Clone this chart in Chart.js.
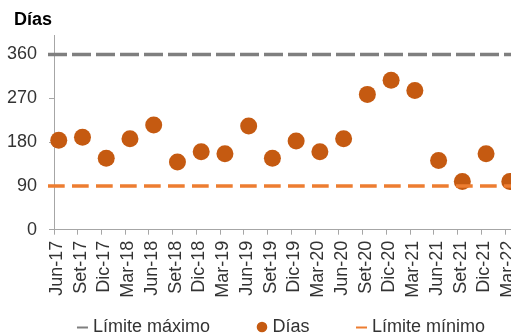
<!DOCTYPE html>
<html lang="es">
<head>
<meta charset="utf-8">
<title>Días</title>
<script src="https://cdn.jsdelivr.net/npm/chart.js@4.4.1/dist/chart.umd.min.js"></script>
<style>
  html, body { margin: 0; padding: 0; background: #fff; overflow: hidden; }
  #wrap { width: 511px; height: 335px; }
</style>
</head>
<body>
<div id="wrap"><canvas id="chart" width="511" height="335"></canvas></div>
<script>
// Trimestres
const categories = ['Jun-17', 'Set-17', 'Dic-17', 'Mar-18', 'Jun-18', 'Set-18', 'Dic-18', 'Mar-19',
  'Jun-19', 'Set-19', 'Dic-19', 'Mar-20', 'Jun-20', 'Set-20', 'Dic-20', 'Mar-21',
  'Jun-21', 'Set-21', 'Dic-21', 'Mar-22'];

// Días observados por trimestre
const dias = [184, 190, 147, 187, 215, 139, 160, 156, 213, 147, 182, 160, 187, 278, 307, 286, 142, 99, 156, 99];

// Límites de referencia
const limiteMaximo = [360, 360, 360, 360, 360, 360, 360, 360, 360, 360, 360, 360, 360, 360, 360, 360, 360, 360, 360, 360];
const limiteMinimo = [90, 90, 90, 90, 90, 90, 90, 90, 90, 90, 90, 90, 90, 90, 90, 90, 90, 90, 90, 90];

// Marcas del eje vertical
const yTicks = [0, 90, 180, 270, 360];

const TITLE = 'Días';
const FONT = "'Liberation Sans', Arial, Helvetica, sans-serif";
const AXIS_GREY = '#A6A6A6';
const TEXT = '#333333';

const toPoints = arr => arr.map((v, i) => ({ x: i, y: v }));

// Título arriba a la izquierda y leyenda centrada bajo el eje
const headerAndLegend = {
  id: 'headerAndLegend',
  afterDraw(chart) {
    const ctx = chart.ctx;
    ctx.save();
    ctx.textBaseline = 'middle';
    ctx.textAlign = 'left';

    ctx.font = `bold 18px ${FONT}`;
    ctx.fillStyle = '#000';
    ctx.fillText(TITLE, 14, 20);

    ctx.font = `18px ${FONT}`;
    const SYM = 11, GAP = 5, ITEM_GAP = 46.5, CX = 281, Y = 327;
    const items = chart.data.datasets.map(ds => ({ ds, w: ctx.measureText(ds.label).width }));
    const total = items.reduce((s, it) => s + SYM + GAP + it.w, 0) + ITEM_GAP * (items.length - 1);
    let x = CX - total / 2;
    items.forEach(({ ds, w }) => {
      if (ds.showLine === false) {
        ctx.beginPath();
        ctx.arc(x + SYM / 2, Y, 5.3, 0, Math.PI * 2);
        ctx.fillStyle = ds.pointBackgroundColor;
        ctx.fill();
      } else {
        ctx.beginPath();
        ctx.moveTo(x, Y + 0.5);
        ctx.lineTo(x + SYM, Y + 0.5);
        ctx.lineWidth = 2;
        ctx.strokeStyle = ds.borderColor;
        ctx.stroke();
      }
      x += SYM + GAP;
      ctx.fillStyle = TEXT;
      ctx.fillText(ds.label, x, Y);
      x += w + ITEM_GAP;
    });
    ctx.restore();
  }
};

new Chart(document.getElementById('chart'), {
  type: 'line',
  data: {
    datasets: [
      {
        label: 'Límite máximo',
        data: toPoints(limiteMaximo),
        xAxisID: 'xRef',
        borderColor: '#7F7F7F',
        backgroundColor: '#7F7F7F',
        borderWidth: 3.5,
        borderDash: [19, 5],
        pointRadius: 0,
        fill: false,
        clip: false,
        order: 0
      },
      {
        label: 'Días',
        data: toPoints(dias),
        xAxisID: 'x',
        showLine: false,
        pointRadius: 8.5,
        pointBorderWidth: 0,
        pointBackgroundColor: '#C55A11',
        backgroundColor: '#C55A11',
        borderColor: '#C55A11',
        clip: false,
        order: 2
      },
      {
        label: 'Límite mínimo',
        data: toPoints(limiteMinimo),
        xAxisID: 'xRef',
        borderColor: '#ED7D31',
        backgroundColor: '#ED7D31',
        borderWidth: 3.5,
        borderDash: [16.7, 7.3],
        pointRadius: 0,
        fill: false,
        clip: false,
        order: 1
      }
    ]
  },
  options: {
    responsive: false,
    devicePixelRatio: 1,
    animation: false,
    events: [],
    layout: { autoPadding: false, padding: { left: 0, right: 0, top: 35, bottom: 0 } },
    scales: {
      x: {
        type: 'linear',
        position: 'bottom',
        min: -0.2,
        max: 19.05,
        afterBuildTicks: s => { s.ticks = categories.map((c, i) => ({ value: i - 0.2 })); },
        afterFit: s => { s.height = 105.3; s.paddingLeft = 0; s.paddingRight = 0; },
        grid: { drawOnChartArea: false, drawTicks: true, tickLength: 5, color: AXIS_GREY, tickWidth: 1 },
        border: { color: AXIS_GREY, width: 1 },
        ticks: {
          autoSkip: false,
          maxRotation: 90,
          minRotation: 90,
          padding: 6,
          labelOffset: 3,
          color: TEXT,
          font: { family: FONT, size: 18 },
          callback: (v, i) => categories[i]
        }
      },
      xRef: {
        type: 'linear',
        display: false,
        min: 0.24,
        max: 18.52
      },
      y: {
        min: 0,
        max: 400,
        afterBuildTicks: s => { s.ticks = yTicks.map(v => ({ value: v })); },
        afterFit: s => { s.width = 54; s.paddingTop = 0; s.paddingBottom = 0; },
        grid: { drawOnChartArea: false, drawTicks: true, tickLength: 5, color: AXIS_GREY },
        border: { color: AXIS_GREY, width: 1 },
        ticks: { padding: 12, color: TEXT, font: { family: FONT, size: 18 } }
      }
    },
    plugins: {
      legend: { display: false },
      title: { display: false },
      tooltip: { enabled: false }
    }
  },
  plugins: [headerAndLegend]
});
</script>
</body>
</html>
